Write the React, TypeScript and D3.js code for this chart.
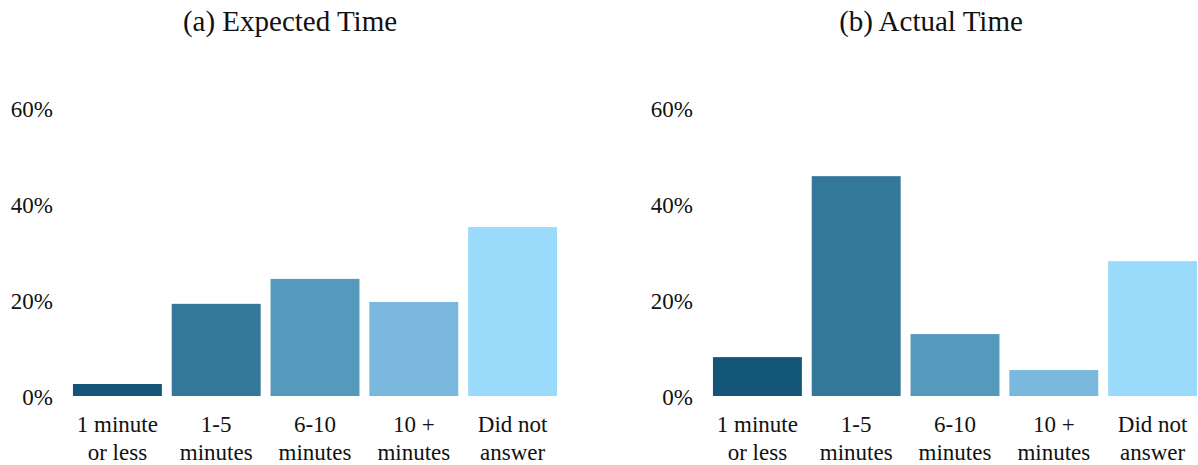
import React from "react";
import * as d3 from "d3";

const categories: string[][] = [
  ["1 minute", "or less"],
  ["1-5", "minutes"],
  ["6-10", "minutes"],
  ["10 +", "minutes"],
  ["Did not", "answer"],
];
const expectedValues = [2.5, 19.2, 24.4, 19.6, 35.2];
const actualValues = [8.1, 45.8, 12.9, 5.4, 28.1];
const yTicks = [0, 20, 40, 60];
const barColors = ["#135577", "#337899", "#5599bc", "#7ab9dd", "#9adbfc"];

const W = 1198;
const H = 465;
const FONT = "Liberation Serif, Times New Roman, Times, DejaVu Serif, serif";

type PanelProps = {
  title: string;
  values: number[];
  x0: number;
  x1: number;
  tickRight: number;
  titleX: number;
};

function Panel({ title, values, x0, x1, tickRight, titleX }: PanelProps) {
  const x = d3
    .scaleBand<number>()
    .domain(d3.range(values.length))
    .range([x0, x1])
    .paddingInner(0.1)
    .paddingOuter(0.05);
  const y = d3.scaleLinear().domain([0, 60]).range([396, 108]);
  const textStyle = { fontFamily: FONT };

  return (
    <g>
      <text x={titleX} y={31} textAnchor="middle" fontSize={29} fill="#111" style={textStyle}>
        {title}
      </text>
      {yTicks.map((t) => (
        <text
          key={t}
          x={tickRight}
          y={y(t) + 1}
          dy="0.33em"
          textAnchor="end"
          fontSize={23}
          fill="#111"
          style={textStyle}
        >
          {`${t}%`}
        </text>
      ))}
      {values.map((v, i) => (
        <rect
          key={i}
          x={x(i)}
          y={y(v)}
          width={x.bandwidth()}
          height={y(0) - y(v)}
          fill={barColors[i]}
        />
      ))}
      {categories.map((lines, i) => (
        <text
          key={i}
          x={(x(i) as number) + x.bandwidth() / 2}
          textAnchor="middle"
          fontSize={23}
          fill="#111"
          style={textStyle}
        >
          {lines.map((l, j) => (
            <tspan key={j} x={(x(i) as number) + x.bandwidth() / 2} y={432 + j * 28}>
              {l}
            </tspan>
          ))}
        </text>
      ))}
    </g>
  );
}

export default function App() {
  return (
    <svg
      width={W}
      height={H}
      style={{ position: "absolute", left: 0, top: 0, background: "#fff", fontFamily: FONT }}
    >
      <Panel
        title="(a) Expected Time"
        values={expectedValues}
        x0={68}
        x1={562}
        tickRight={53}
        titleX={290}
      />
      <Panel
        title="(b) Actual Time"
        values={actualValues}
        x0={708}
        x1={1202}
        tickRight={693}
        titleX={931}
      />
    </svg>
  );
}
